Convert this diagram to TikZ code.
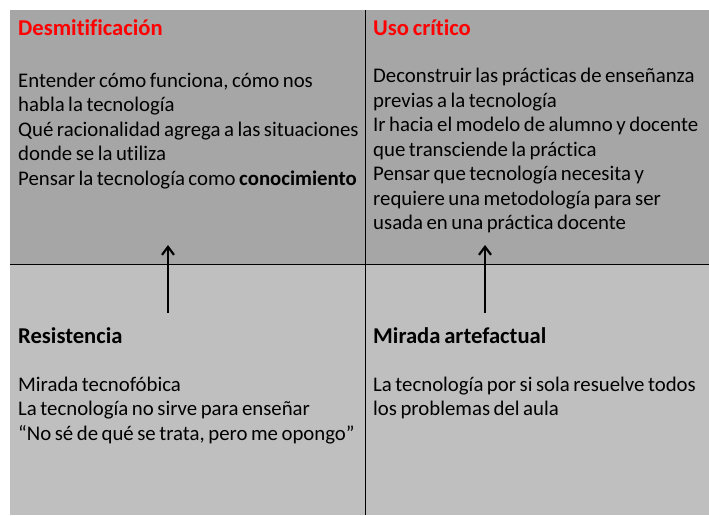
\documentclass[tikz,border=0pt]{standalone}
\usepackage{fontspec}
\setmainfont{Carlito}[Ligatures=NoCommon, WordSpace=0.75]
\usetikzlibrary{arrows.meta}
\definecolor{topgray}{HTML}{A6A6A6}
\definecolor{lowgray}{HTML}{BFBFBF}
\definecolor{titlered}{HTML}{FF0000}

\begin{document}
\begin{tikzpicture}[
    x=1pt, y=-1pt,
    cell/.style={draw=none, inner sep=0pt, anchor=north west, minimum width=355pt},
    title/.style={anchor=base west, inner sep=0pt, font=\fontsize{22.6}{24.5}\selectfont\bfseries},
    body/.style={anchor=north west, inner sep=0pt, align=left, font=\fontsize{20.8}{24.5}\selectfont},
    up/.style={-{Straight Barb[length=8pt,width=12pt]}, line width=2.2pt},
]
\useasboundingbox (0,0) rectangle (709,515);

% Quadrants
\node[cell, fill=topgray, minimum height=254pt] (nw) at (10,10) {};
\node[cell, fill=topgray, minimum height=254pt, minimum width=344pt] (ne) at (365,10) {};
\node[cell, fill=lowgray, minimum height=251pt] (sw) at (10,264) {};
\node[cell, fill=lowgray, minimum height=251pt, minimum width=344pt] (se) at (365,264) {};

% Dividers
\draw[line width=0.9pt] (sw.north west) -- (se.north east);
\draw[line width=0.9pt] (ne.north west) -- (se.south west);

% Top left
\node[title, text=titlered] (desmit) at (18,35) {Desmitificación};
\node[body] (desmittxt) at (18,72.5) {Entender cómo funciona, cómo nos\\
    habla la tecnología\\
    Qué racionalidad agrega a las situaciones\\
    donde se la utiliza\\
    Pensar la tecnología como \textbf{conocimiento}};

% Top right
\node[title, text=titlered] (uso) at (373,35) {Uso crítico};
\node[body] (usotxt) at (373,68) {Deconstruir las prácticas de enseñanza\\
    previas a la tecnología\\
    Ir hacia el modelo de alumno y docente\\
    que transciende la práctica\\
    Pensar que tecnología necesita y\\
    requiere una metodología para ser\\
    usada en una práctica docente};

% Bottom left
\node[title] (resist) at (18,343) {Resistencia};
\node[body] (resisttxt) at (18,376.5) {Mirada tecnofóbica\\
    La tecnología no sirve para enseñar\\
    “No sé de qué se trata, pero me opongo”};

% Bottom right
\node[title] (artef) at (373,343) {Mirada artefactual};
\node[body] (arteftxt) at (373,376.5) {La tecnología por si sola resuelve todos\\
    los problemas del aula};

% Arrows
\coordinate (a1) at (168,313);
\coordinate (b1) at (168,245);
\coordinate (a2) at (485,313);
\coordinate (b2) at (485,245);
\foreach \i in {1,2} {
    \draw[up] (a\i) -- (b\i);
}
\end{tikzpicture}
\end{document}
